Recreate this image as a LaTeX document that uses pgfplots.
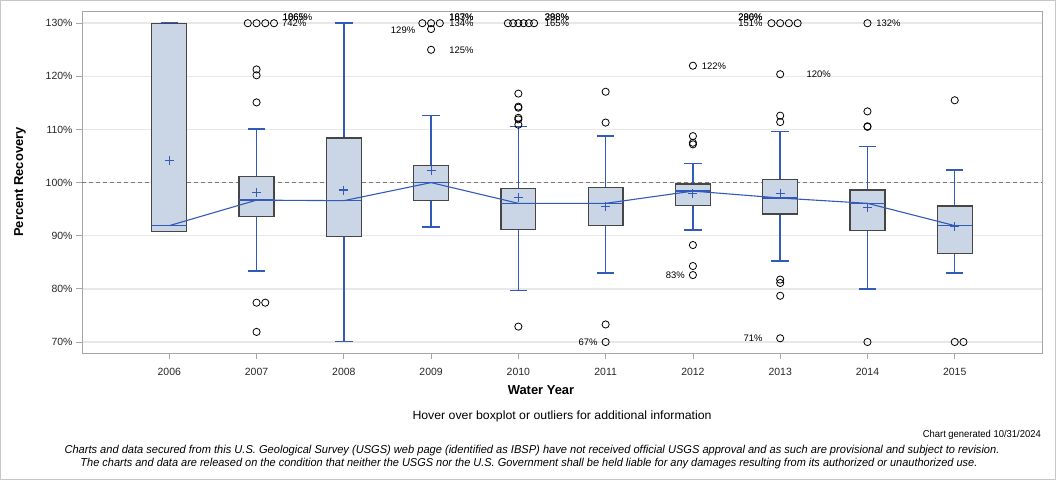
\documentclass[border=0pt]{standalone}
\usepackage{pgfplots}
\pgfplotsset{compat=1.18}
\usepackage{fontspec}
\setmainfont{Liberation Sans}
\definecolor{boxfill}{RGB}{202,213,229}
\definecolor{boxedge}{RGB}{70,70,70}
\definecolor{whisk}{RGB}{50,90,185}
\definecolor{gridc}{RGB}{232,232,232}
\definecolor{framec}{RGB}{166,166,166}
% pos, lower whisker, q1, median, q3, upper whisker
\newcommand{\bx}[6]{%
\pgfmathsetmacro\L{#1-0.2}\pgfmathsetmacro\R{#1+0.2}%
\pgfmathsetmacro\cL{#1-0.1}\pgfmathsetmacro\cR{#1+0.1}%
\edef\tmp{%
\noexpand\addplot[whisk, line width=1.5bp] coordinates {(#1,#5) (#1,#6)};
\noexpand\addplot[whisk, line width=1.5bp] coordinates {(#1,#3) (#1,#2)};
\noexpand\addplot[whisk, line width=1.5bp] coordinates {(\cL,#6) (\cR,#6)};
\noexpand\addplot[whisk, line width=1.5bp] coordinates {(\cL,#2) (\cR,#2)};
\noexpand\addplot[fill=boxfill, draw=boxedge, line width=1.2bp] coordinates {(\L,#3) (\R,#3) (\R,#5) (\L,#5)} -- cycle;
\noexpand\addplot[whisk, line width=1.3bp] coordinates {(\L,#4) (\R,#4)};
}\tmp}
\newcommand{\lab}[4]{\node[font=\fontsize{9.5}{10}\selectfont, anchor=#3, inner sep=0pt] at (axis cs:#1,#2) {#4};}
\begin{document}
\begin{tikzpicture}
\useasboundingbox (0bp,0bp) rectangle (1056bp,480bp);
\draw[color=black!22, line width=1bp] (0.5bp,0.5bp) rectangle (1055.5bp,479.5bp);
\begin{axis}[
  at={(82bp,127bp)}, anchor=south west,
  width=960bp, height=342bp, scale only axis,
  xmin=-1, xmax=10, ymin=67.93, ymax=132.3,
  xtick={0,...,9},
  xticklabels={2006,2007,2008,2009,2010,2011,2012,2013,2014,2015},
  ytick={70,80,...,130},
  yticklabel={\pgfmathprintnumber{\tick}\%},
  /pgf/number format/assume math mode=true,
  tick label style={font=\fontsize{10.5}{12}\selectfont, text=black!85},
  xticklabel style={yshift=-6bp},
  axis line style={framec},
  tick style={framec, line width=0.8bp},
  tick align=outside, major tick length=6bp,
  xtick pos=bottom, ytick pos=left,
  ymajorgrids, grid style={gridc, line width=1.5bp},
  clip=true,
]
\addplot[black!52, line width=1.7bp, dash pattern=on 4bp off 3bp] coordinates {(-1,100) (10,100)};
\bx{0}{90.8}{90.8}{91.9}{130}{130}
\bx{1}{83.4}{93.6}{96.7}{101.1}{110.1}
\bx{2}{70.1}{89.9}{96.6}{108.4}{130}
\bx{3}{91.6}{96.7}{100}{103.25}{112.6}
\bx{4}{79.7}{91.1}{96.1}{98.9}{110.6}
\bx{5}{83.0}{92.0}{96.1}{99.1}{108.8}
\bx{6}{91.1}{95.7}{98.4}{99.75}{103.6}
\bx{7}{85.25}{94.1}{97.1}{100.6}{109.6}
\bx{8}{80.0}{91.0}{96.1}{98.6}{106.8}
\bx{9}{83.0}{86.6}{91.9}{95.6}{102.4}
% median line
\addplot[whisk, line width=1.1bp] coordinates {(0,91.9) (1,96.7) (2,96.6) (3,100) (4,96.1) (5,96.1) (6,98.4) (7,97.1) (8,96.1) (9,91.9)};
% means
\addplot[only marks, mark=+, mark size=4.5bp, whisk, line width=1.1bp] coordinates {(0,104.1) (1,98.1) (2,98.6) (3,102.3) (4,97.2) (5,95.5) (6,98.0) (7,98.0) (8,95.25) (9,91.75)};
% outliers
\addplot[only marks, mark=o, mark size=3.6bp, black, line width=0.8bp] coordinates {
(0.9,130) (1,130) (1.1,130) (1.2,130)
(1,121.3) (1,120.2) (1,115.1) (1,77.4) (1.1,77.4) (1,71.9)
(2.9,130) (3,130) (3.1,130) (3,128.9) (3,125.0)
(3.88,130) (3.94,130) (4,130) (4.06,130) (4.12,130) (4.18,130)
(4,116.75) (4,114.3) (4,114.1) (4,112.2) (4,111.9) (4,110.9) (4,72.9)
(5,117.1) (5,111.3) (5,73.3) (5,70)
(6,122) (6,108.75) (6,107.5) (6,107.2) (6,88.25) (6,84.3) (6,82.6)
(6.9,130) (7,130) (7.1,130) (7.2,130)
(7,120.4) (7,112.6) (7,111.4) (7,81.75) (7,81.1) (7,78.7) (7,70.7)
(8,130) (8,113.4) (8,110.6) (8,110.5) (8,70)
(9,115.5) (9,70) (9.1,70)
};
% labels
\lab{1.29}{130}{west}{742\%}
\lab{1.30}{131.2}{west}{1065\%}
\lab{1.30}{131.2}{west}{186\%}
\lab{2.82}{128.7}{east}{129\%}
\lab{3.207}{130}{west}{134\%}
\lab{3.207}{131.2}{west}{167\%}
\lab{3.207}{131.2}{west}{183\%}
\lab{3.207}{125}{west}{125\%}
\lab{4.30}{130}{west}{165\%}
\lab{4.30}{131.2}{west}{388\%}
\lab{4.30}{131.2}{west}{298\%}
\lab{4.91}{70}{east}{67\%}
\lab{6.10}{121.9}{west}{122\%}
\lab{5.91}{82.5}{east}{83\%}
\lab{6.80}{130}{east}{151\%}
\lab{6.80}{131.2}{east}{290\%}
\lab{6.80}{131.2}{east}{286\%}
\lab{7.30}{120.4}{west}{120\%}
\lab{6.80}{70.75}{east}{71\%}
\lab{8.10}{130}{west}{132\%}
\end{axis}
\node[rotate=90, font=\bfseries\fontsize{13}{14}\selectfont] at (20bp,298bp) {Percent Recovery};
\node[font=\bfseries\fontsize{13}{14}\selectfont] at (541bp,90bp) {Water Year};
\node at (562bp,64bp) {\resizebox{299bp}{\height}{\fontsize{12}{14}\selectfont Hover over boxplot or outliers for additional information}};
\node[anchor=east, inner sep=0pt] at (1041bp,45bp) {\resizebox{118bp}{\height}{\fontsize{10}{12}\selectfont Chart generated 10/31/2024}};
\node at (532bp,29bp) {\resizebox{935bp}{\height}{\itshape\fontsize{11.5}{13}\selectfont Charts and data secured from this U.S. Geological Survey (USGS) web page (identified as IBSP) have not received official USGS approval and as such are provisional and subject to revision.}};
\node at (529bp,16bp) {\resizebox{897bp}{\height}{\itshape\fontsize{11.5}{13}\selectfont The charts and data are released on the condition that neither the USGS nor the U.S. Government shall be held liable for any damages resulting from its authorized or unauthorized use.}};
\end{tikzpicture}
\end{document}
